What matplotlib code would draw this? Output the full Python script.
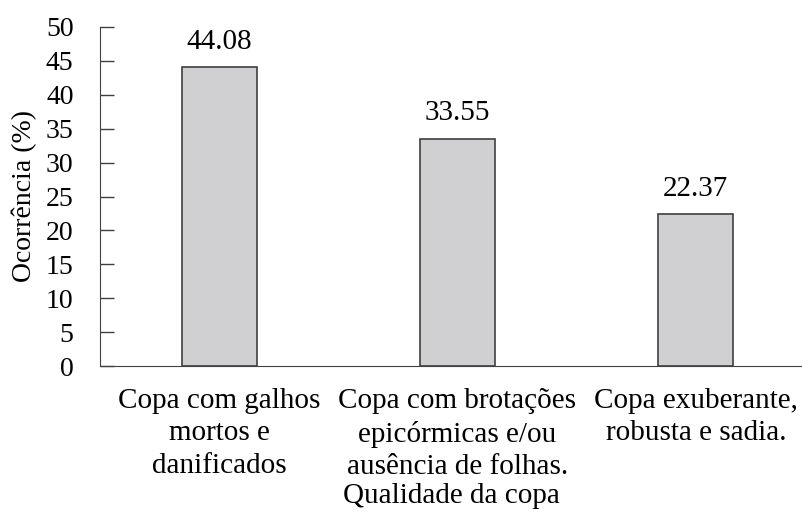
import numpy as np
import matplotlib.pyplot as plt

categorias = ['Copa com galhos\nmortos e\ndanificados',
              'Copa com brotações\nepicórmicas e/ou\nausência de folhas.',
              'Copa exuberante,\nrobusta e sadia.']
ocorrencia = [44.08, 33.55, 22.37]
rotulos = ['44.08', '33.55', '22.37']
yticks = list(range(0, 51, 5))

plt.rcParams['font.family'] = ['Liberation Serif', 'DejaVu Serif']
plt.rcParams['font.size'] = 21

fig = plt.figure(figsize=(8.03, 5.12), dpi=100)
ax = fig.add_axes([100 / 803, 1 - 366 / 512, 1 - 100 / 803, (366 - 27) / 512])

x = np.arange(len(categorias))
ax.bar(x, ocorrencia, width=0.316, color='#d0cfd1', edgecolor='#404040', linewidth=1.2)
for xi, v, t in zip(x, ocorrencia, rotulos):
    ax.text(xi, v + 2.7, t, ha='center', va='baseline', fontsize=21)

ax.set_xlim(-0.5, 2.45)
ax.set_ylim(0, 50)
ax.set_yticks(yticks)
ax.set_xticks(x)
ax.set_xticklabels(categorias, linespacing=1.31)
ax.tick_params(axis='x', length=0, pad=16)
ax.tick_params(axis='y', direction='in', length=10, width=1, color='#404040',
               pad=19, labelsize=20)
ax.spines['top'].set_visible(False)
ax.spines['right'].set_visible(False)
ax.spines['left'].set_color('#404040')
ax.spines['bottom'].set_color('#404040')
ax.set_ylabel('Ocorrência (%)', fontsize=20)
ax.yaxis.set_label_coords(-0.09, 0.5)
ax.set_xlabel('Qualidade da copa', fontsize=21, labelpad=2)

fig.savefig('out.png', dpi=100)
